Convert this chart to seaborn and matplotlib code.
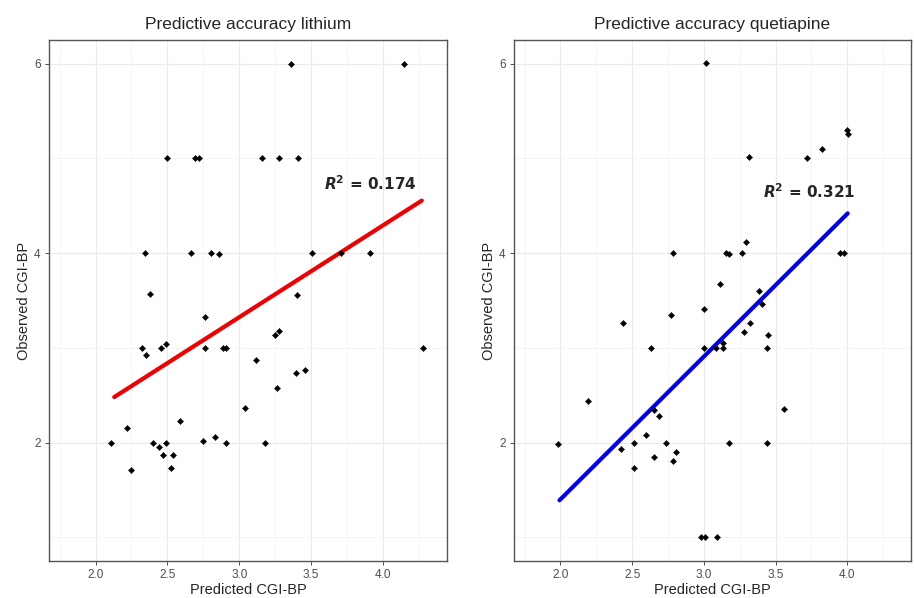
import matplotlib.pyplot as plt
import pandas as pd
import seaborn as sns
from matplotlib.ticker import MultipleLocator

# --- data ---
lith_pred = [2.11, 2.22, 2.25, 2.326, 2.354, 2.456, 2.488, 2.764, 2.764, 2.89, 2.91,
             3.113, 3.396, 3.46, 4.275, 3.252, 3.275, 3.26, 3.037, 2.585, 2.40, 2.44,
             2.488, 2.467, 2.539, 2.523, 2.747, 2.83, 2.91, 3.18, 3.36, 4.146, 2.497,
             2.69, 2.72, 3.155, 3.273, 3.41, 2.347, 2.662, 2.80, 2.858, 3.504, 3.706,
             3.91, 2.38, 3.405]
lith_obs = [2.0, 2.155, 1.71, 3.0, 2.92, 3.0, 3.04, 3.33, 3.0, 3.0, 3.0,
            2.876, 2.736, 2.77, 3.0, 3.137, 3.18, 2.58, 2.37, 2.23, 2.0, 1.955,
            2.0, 1.87, 1.866, 1.73, 2.02, 2.06, 2.0, 2.0, 6.0, 6.0, 5.0,
            5.0, 5.0, 5.0, 5.0, 5.0, 4.0, 4.0, 4.0, 3.99, 4.0, 4.0,
            4.0, 3.57, 3.56]
lith_fit_x = [2.13, 4.27]
lith_fit_y = [2.48, 4.555]

quet_pred = [3.017, 4.0, 4.005, 3.824, 3.317, 3.72, 2.784, 3.154, 3.172, 3.266,
             3.294, 3.95, 3.975, 3.11, 3.382, 3.405, 2.998, 2.77, 2.435, 3.324,
             3.277, 3.445, 2.63, 2.998, 3.085, 3.133, 3.135, 3.44, 2.19, 3.56,
             2.65, 2.69, 1.986, 2.593, 2.516, 2.735, 3.177, 3.442, 2.42, 2.654,
             2.805, 2.782, 2.51, 2.98, 3.005, 3.09]
quet_obs = [6.01, 5.30, 5.26, 5.095, 5.01, 5.0, 4.0, 4.0, 3.99, 4.0,
            4.12, 4.0, 4.0, 3.67, 3.60, 3.46, 3.415, 3.35, 3.26, 3.26,
            3.165, 3.14, 3.0, 3.0, 3.0, 3.05, 3.0, 3.0, 2.44, 2.35,
            2.34, 2.285, 1.98, 2.077, 2.0, 2.0, 2.0, 2.0, 1.93, 1.85,
            1.90, 1.80, 1.73, 1.0, 1.0, 1.0]
quet_fit_x = [1.993, 4.003]
quet_fit_y = [1.39, 4.42]

titles = ["Predictive accuracy lithium", "Predictive accuracy quetiapine"]
r2_labels = ["0.174", "0.321"]
r2_pos = [(3.91, 4.73), (3.735, 4.645)]
line_colors = ["#EE0000", "#0000EE"]

sns.set_style("white")
plt.rcParams["font.family"] = ["Liberation Sans", "DejaVu Sans"]
plt.rcParams["mathtext.fontset"] = "dejavusans"

fig = plt.figure(figsize=(9.14, 5.98), dpi=100)
axes = [fig.add_axes([0.0536, 0.062, 0.4354, 0.871]),
        fig.add_axes([0.5624, 0.062, 0.4344, 0.871])]

panels = [
    (lith_pred, lith_obs, lith_fit_x, lith_fit_y),
    (quet_pred, quet_obs, quet_fit_x, quet_fit_y),
]

for i, (ax, (px, obs, fx, fy)) in enumerate(zip(axes, panels)):
    pts = pd.DataFrame({"pred": px, "obs": obs})
    fit = pd.DataFrame({"pred": fx, "obs": fy})
    ax.set_axisbelow(True)
    sns.lineplot(data=fit, x="pred", y="obs", color=line_colors[i], lw=3.0,
                 ax=ax, zorder=2)
    sns.scatterplot(data=pts, x="pred", y="obs", marker="D", s=10, color="black",
                    edgecolor="black", linewidth=0.3, ax=ax, zorder=3)

    ax.set_xlim(1.676, 4.445)
    ax.set_ylim(0.75, 6.25)
    ax.xaxis.set_major_locator(MultipleLocator(0.5))
    ax.xaxis.set_minor_locator(MultipleLocator(0.25))
    ax.yaxis.set_major_locator(MultipleLocator(2))
    ax.yaxis.set_minor_locator(MultipleLocator(1))
    ax.xaxis.set_major_formatter(plt.FormatStrFormatter("%.1f"))
    ax.grid(which="major", color="#EBEBEB", lw=0.9)
    ax.grid(which="minor", color="#F2F2F2", lw=0.6)
    ax.tick_params(which="major", direction="out", length=3, width=0.7,
                   color="#4D4D4D", labelcolor="#4D4D4D", labelsize=8.5,
                   bottom=True, left=True, pad=3)
    ax.tick_params(which="minor", length=0)
    for sp in ax.spines.values():
        sp.set_color("#555555")
        sp.set_linewidth(1.0)

    ax.set_title(titles[i], fontsize=12.5, pad=8)
    ax.set_xlabel("Predicted CGI-BP", fontsize=10.5, labelpad=1)
    ax.set_ylabel("Observed CGI-BP", fontsize=10.5, labelpad=2)

    tx, ty = r2_pos[i]
    ax.text(tx, ty, r"$\mathbfit{R}^{\mathbf{2}}$ = " + r2_labels[i],
            fontsize=11, fontweight="bold", ha="center", va="center",
            family=["DejaVu Sans"], zorder=4)

fig.savefig("out.png", dpi=100)
